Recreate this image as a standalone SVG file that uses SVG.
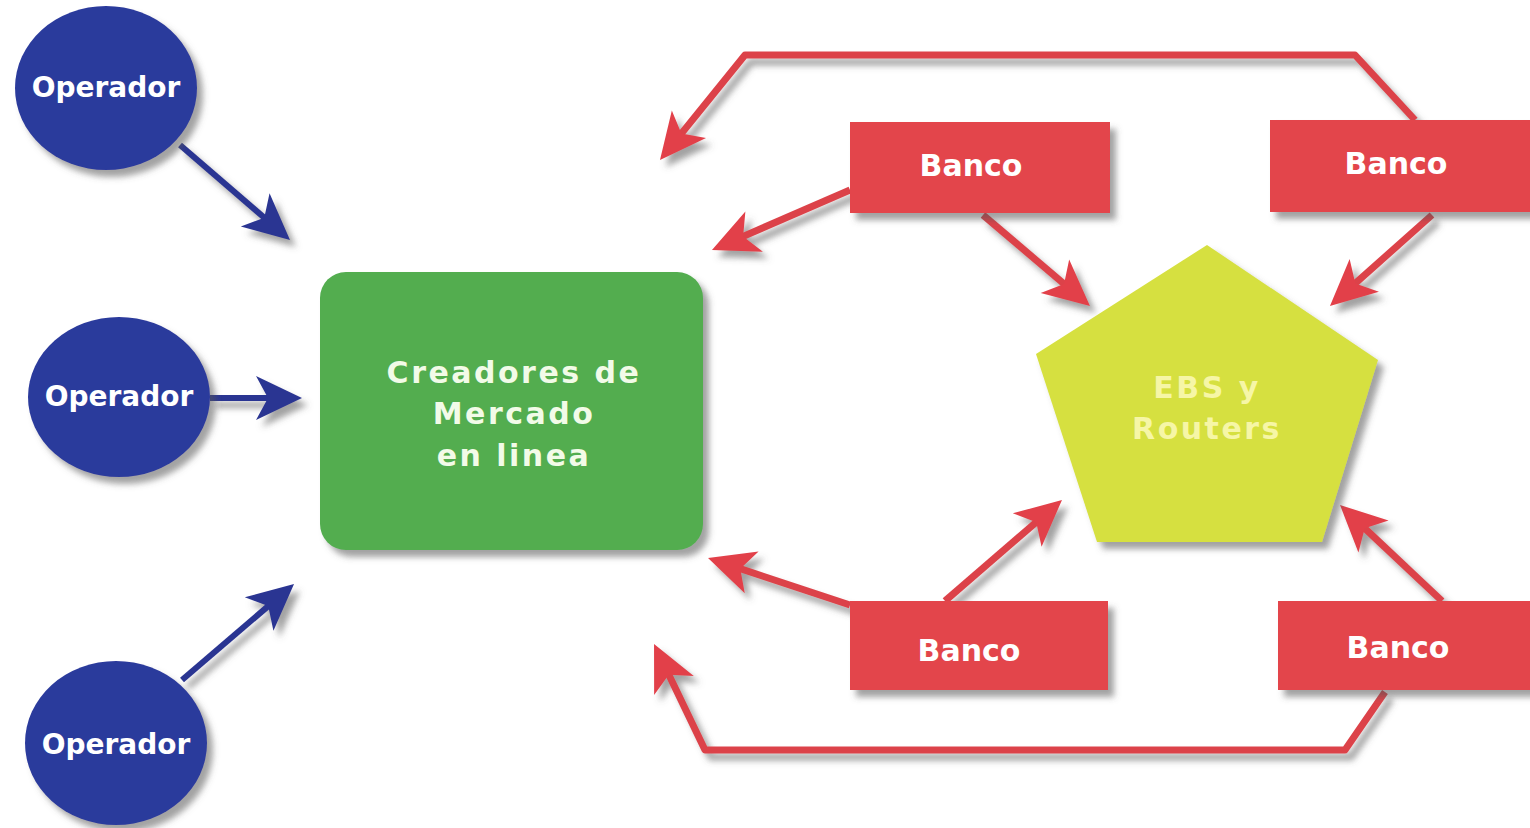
<svg xmlns="http://www.w3.org/2000/svg" width="1530" height="828" viewBox="0 0 1530 828">
<defs>
<filter id="sh" x="-20%" y="-20%" width="150%" height="150%">
<feDropShadow dx="6" dy="7" stdDeviation="3" flood-color="#555" flood-opacity="0.55"/>
</filter>
<marker id="ab" markerUnits="userSpaceOnUse" viewBox="-50 -25 56 50" markerWidth="56" markerHeight="50" refX="-14" refY="0" orient="auto">
<path d="M0,0 L-46,-22 L-34,0 L-46,22 Z" fill="#2b3592"/>
</marker>
<marker id="ar" markerUnits="userSpaceOnUse" viewBox="-50 -25 56 50" markerWidth="56" markerHeight="50" refX="-14" refY="0" orient="auto">
<path d="M0,0 L-46,-22 L-34,0 L-46,22 Z" fill="#e2404a"/>
</marker>
<style>
.t{font-family:"DejaVu Sans","Liberation Sans",Arial,sans-serif;font-weight:bold;font-size:30px;text-anchor:middle}
.o{font-size:28px}
.op{fill:#2c3a9c;filter:url(#sh)}
.bk{fill:#e3454b;filter:url(#sh)}
.bl{stroke:#2b3592;stroke-width:6;fill:none;marker-end:url(#ab)}
.rd{stroke:#dc434a;stroke-width:7;fill:none;stroke-linejoin:round;marker-end:url(#ar)}
</style>
</defs>
<rect width="1530" height="828" fill="#ffffff"/>
<g id="connectors" filter="url(#sh)">
<path class="bl" d="M180,145 L279.4,230.8"/>
<path class="bl" d="M210,398 L288,398"/>
<path class="bl" d="M182,680 L283.4,593.1"/>
<path class="rd" d="M1415,120 L1355,55 L745,55 L668.8,149.1"/>
<path class="rd" d="M850,190 L724.8,244.4"/>
<path class="rd" d="M983,215 L1079.3,296.9"/>
<path class="rd" d="M1432,215 L1340.4,296.7"/>
<path class="rd" d="M850,605 L721.3,562.4"/>
<path class="rd" d="M945,601 L1051.4,509.1"/>
<path class="rd" d="M1442,601 L1350.2,514.6"/>
<path class="rd" d="M1385,692 L1345,750 L705,750 L660.1,656.6"/>
</g>
<g id="op1">
<ellipse class="op" cx="106" cy="88" rx="91" ry="82"/>
<text class="t o" x="106" y="97" fill="#ffffff">Operador</text>
</g>
<g id="op2">
<ellipse class="op" cx="119" cy="397" rx="91" ry="80"/>
<text class="t o" x="119" y="406" fill="#ffffff">Operador</text>
</g>
<g id="op3">
<ellipse class="op" cx="116" cy="743" rx="91" ry="82"/>
<text class="t o" x="116" y="754" fill="#ffffff">Operador</text>
</g>
<g id="creadores">
<rect x="320" y="272" width="383" height="278" rx="26" fill="#52ad4f" filter="url(#sh)"/>
<text class="t" x="514" y="383" fill="#f2fbe8" letter-spacing="2.5">Creadores de</text>
<text class="t" x="514" y="424" fill="#f2fbe8" letter-spacing="2.5">Mercado</text>
<text class="t" x="514" y="466" fill="#f2fbe8" letter-spacing="2.5">en linea</text>
</g>
<g id="ebs">
<polygon points="1207,245 1378,360 1322,542 1097,542 1036,354" fill="#d6e040" filter="url(#sh)"/>
<text class="t" x="1207" y="398" fill="#f6f6a6" letter-spacing="2.5">EBS y</text>
<text class="t" x="1207" y="439" fill="#f6f6a6" letter-spacing="2.5">Routers</text>
</g>
<g id="banco1">
<rect class="bk" x="850" y="122" width="260" height="91"/>
<text class="t" x="971" y="176" fill="#ffffff">Banco</text>
</g>
<g id="banco2">
<rect class="bk" x="1270" y="120" width="262" height="92"/>
<text class="t" x="1396" y="174" fill="#ffffff">Banco</text>
</g>
<g id="banco3">
<rect class="bk" x="850" y="601" width="258" height="89"/>
<text class="t" x="969" y="661" fill="#ffffff">Banco</text>
</g>
<g id="banco4">
<rect class="bk" x="1278" y="601" width="254" height="89"/>
<text class="t" x="1398" y="658" fill="#ffffff">Banco</text>
</g>
</svg>
